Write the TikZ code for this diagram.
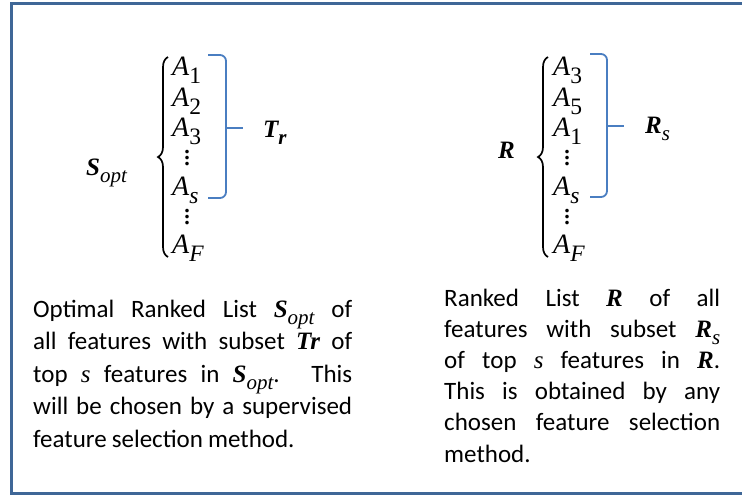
\documentclass[tikz,border=0pt]{standalone}
\usepackage{fontspec}
\setmainfont{Carlito}[WordSpace={0.9,1.5,1}]
\newfontfamily\mth{Liberation Serif}
\usetikzlibrary{decorations.pathreplacing}

\definecolor{framecol}{RGB}{63,103,151}
\definecolor{brk}{RGB}{74,126,193}

% symbols set in a Times-like serif
\newcommand\bi[1]{{\mth\bfseries\itshape #1}}
\newcommand\mi[1]{{\mth\itshape #1}}
\newcommand\sbs[1]{\raisebox{-0.3em}{\scalebox{0.84}{#1}}}
% three stacked dots
\newcommand\vdt{\vbox{\baselineskip5.6pt\lineskiplimit0pt\hbox{.}\hbox{.}\hbox{.}}}
% one justified caption line of a given width
\newcommand\jl[2]{\makebox[#1][s]{#2}}

\tikzset{
  listitem/.style={anchor=base west, inner sep=0pt,
    font=\mth\fontsize{28}{30}\selectfont},
  listdots/.style={inner sep=0pt, font=\mth\bfseries\fontsize{22}{22}\selectfont},
  setname/.style={anchor=base west, inner sep=0pt,
    font=\mth\fontsize{25}{28}\selectfont},
  body/.style={anchor=base west, inner sep=0pt, align=left,
    font=\fontsize{25}{32.5}\selectfont},
  curly/.style={draw=black, line width=1.7pt,
    decorate, decoration={brace, amplitude=10pt}},
  square/.style={draw=brk, line width=1.8pt, rounded corners=6pt}
}

\begin{document}
\begin{tikzpicture}[x=1pt, y=-1pt]
\useasboundingbox (0,0) rectangle (742,496);

% frame, open on the right
\draw[framecol, line width=3pt] (742,3) -- (11,3) -- (11,493) -- (742,493);

% ---------- left list ----------
\node[setname] (sopt) at (86,175) {\bi{S}\sbs{\mi{opt}}};
\node[listitem] (l1) at (172,75)  {\mi{A}\sbs{1}};
\node[listitem] (l2) at (172,106) {\mi{A}\sbs{2}};
\node[listitem] (l3) at (172,136) {\mi{A}\sbs{3}};
\node[listdots] (ld1) at (187,158) {\vdt};
\node[listitem] (ls) at (172,195) {\mi{A}\sbs{\mi{s}}};
\node[listdots] (ld2) at (187,217) {\vdt};
\node[listitem] (lF) at (172,253) {\mi{A}\sbs{\mi{F}}};

\coordinate (lbB) at (168,257);
\coordinate (lbT) at (168,57);
\draw[curly] (lbB) -- (lbT);

\coordinate (lsT) at (208,55);
\coordinate (lsB) at (208,198);
\coordinate (lsM) at (243,128);
\draw[square] (lsT) -- (226,55) -- (226,198) -- (lsB);
\draw[brk, line width=1.8pt] (226,128) -- (lsM);

\node[setname] (tr) at (263,137) {\bi{T}\sbs{\bi{r}}};

% ---------- right list ----------
\node[setname] (r) at (498,158) {\bi{R}};
\node[listitem] (r1) at (553,75)  {\mi{A}\sbs{3}};
\node[listitem] (r2) at (553,106) {\mi{A}\sbs{5}};
\node[listitem] (r3) at (553,136) {\mi{A}\sbs{1}};
\node[listdots] (rd1) at (567,158) {\vdt};
\node[listitem] (rs) at (553,195) {\mi{A}\sbs{\mi{s}}};
\node[listdots] (rd2) at (567,217) {\vdt};
\node[listitem] (rF) at (553,253) {\mi{A}\sbs{\mi{F}}};

\coordinate (rbB) at (548,257);
\coordinate (rbT) at (548,57);
\draw[curly] (rbB) -- (rbT);

\coordinate (rsT) at (590,54);
\coordinate (rsB) at (590,197);
\coordinate (rsM) at (624,126);
\draw[square] (rsT) -- (607,54) -- (607,197) -- (rsB);
\draw[brk, line width=1.8pt] (607,126) -- (rsM);

\node[setname] (rsl) at (645,133) {\bi{R}\sbs{\mi{s}}};

% ---------- captions (anchored at the baseline of the last line) ----------
\node[body] (capl) at (33,447) {%
\jl{319pt}{Optimal Ranked List \bi{S}\sbs{\mi{opt}} of}\\
\jl{319pt}{all features with subset \bi{Tr} of}\\
\jl{319pt}{top \mi{s} features in \bi{S}\sbs{\mi{opt}}. This}\\
\jl{319pt}{will be chosen by a supervised}\\
feature selection method.};

\node[body, font=\fontsize{25}{31.2}\selectfont] (capr) at (444,462) {%
\jl{276pt}{Ranked List \bi{R} of all}\\
\jl{276pt}{features with subset \bi{R}\sbs{\mi{s}}}\\
\jl{276pt}{of top \mi{s} features in \bi{R}.}\\
\jl{276pt}{This is obtained by any}\\
\jl{276pt}{chosen feature selection}\\
method.};
\end{tikzpicture}
\end{document}
